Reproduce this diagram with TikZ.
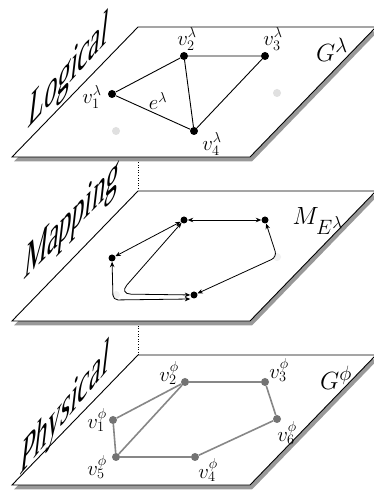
\documentclass[tikz,border=0pt]{standalone}
\usepackage{fontspec}
\newfontfamily\layerfont{Liberation Serif}
\usetikzlibrary{arrows.meta}

\begin{document}
\begin{tikzpicture}[x=1pt, y=1pt,
    plane/.style={draw=black, fill=white, line width=0.9pt},
    shadow/.style={fill=black!40, draw=none},
    lnode/.style={circle, fill=black, inner sep=0pt, minimum size=8pt},
    mnode/.style={circle, fill=black, inner sep=0pt, minimum size=7pt},
    pnode/.style={circle, fill=black!55, inner sep=0pt, minimum size=8pt},
    ghost/.style={circle, fill=black!12, inner sep=0pt, minimum size=8pt},
    faint/.style={circle, fill=black!6, inner sep=0pt, minimum size=8pt},
    ledge/.style={draw, line width=0.9pt},
    pedge/.style={draw=black!47, line width=1.6pt},
    maparrow/.style={draw, line width=0.8pt, {Stealth[length=5.5pt,width=4.5pt]}-{Stealth[length=5.5pt,width=4.5pt]}},
    vlabel/.style={font=\fontsize{20.74}{24}\selectfont, inner sep=0pt},
    glabel/.style={font=\fontsize{24.88}{28}\selectfont, inner sep=0pt},
    layertitle/.style={anchor=base west, inner sep=0pt, font=\layerfont\fontsize{26}{30}\selectfont, cm={1,#1,0.24,2.05,(0,0)}}
  ]
  \useasboundingbox (0,0) rectangle (374,498);

  % Dotted line behind the layers
  \coordinate (top1) at (138,471);
  \coordinate (top3) at (138,143);
  \draw[dotted, line width=0.6pt] (top3) -- (top1);

  % Logical layer
  \begin{scope}[shift={(0,341)}]
    \fill[shadow] (14,-4.5) -- (252,-4.5) -- (378,125.5) -- (140,125.5) -- cycle;
    \draw[plane] (12,0) -- (250,0) -- (376,130) -- (138,130) -- cycle;
    \node[layertitle=1.1] (tlog) at (27,27) {Logical};
    \node[ghost] (lg5) at (116,26) {};
    \node[ghost] (lg6) at (277,64) {};
    \node[lnode] (l1) at (112,63) {};
    \node[lnode] (l2) at (184,101) {};
    \node[lnode] (l3) at (265,101) {};
    \node[lnode] (l4) at (194,26) {};
    \draw[ledge] (l1) -- (l2) -- (l3) -- (l4) -- (l1);
    \draw[ledge] (l2) -- (l4);
    \node[vlabel] (l1lab) at (92,60) {$v_1^\lambda$};
    \node[vlabel] (l2lab) at (187,118) {$v_2^\lambda$};
    \node[vlabel] (l3lab) at (273,118) {$v_3^\lambda$};
    \node[vlabel] (l4lab) at (212,13) {$v_4^\lambda$};
    \node[vlabel] (elab) at (158,56) {$e^\lambda$};
    \node[glabel] (glog) at (332,107) {$G^\lambda$};
  \end{scope}

  % Mapping layer
  \begin{scope}[shift={(0,177)}]
    \fill[shadow] (14,-4.5) -- (252,-4.5) -- (378,125.5) -- (140,125.5) -- cycle;
    \draw[plane] (12,0) -- (250,0) -- (376,130) -- (138,130) -- cycle;
    \node[layertitle=1.0] (tmap) at (23,40) {Mapping};
    \node[faint] (mg5) at (116,26) {};
    \node[faint] (mg6) at (277,64) {};
    \node[mnode] (m1) at (184,101) {};
    \node[mnode] (m2) at (265,101) {};
    \node[mnode] (m3) at (112,63) {};
    \node[mnode] (m4) at (194,26) {};
    \draw[maparrow] (m1) -- (m2);
    \draw[maparrow] (m1) -- (m3);
    \draw[maparrow, rounded corners=6pt] (m4) -- (mg6.center) -- (m2);
    \draw[maparrow, rounded corners=5pt] (m3) -- ([shift={(-3pt,-5pt)}]mg5.center) -- ([yshift=-4pt]m4.west);
    \draw[maparrow, rounded corners=12pt] (m1) -- ([shift={(3pt,1pt)}]mg5.center) -- (m4);
    \node[glabel] (gmap) at (318,100) {$M_{E^\lambda}$};
  \end{scope}

  % Physical layer
  \begin{scope}[shift={(0,13)}]
    \fill[shadow] (14,-4.5) -- (252,-4.5) -- (378,125.5) -- (140,125.5) -- cycle;
    \draw[plane] (12,0) -- (250,0) -- (376,130) -- (138,130) -- cycle;
    \node[layertitle=1.2] (tphy) at (19,8) {Physical};
    \node[pnode] (p1) at (113,65) {};
    \node[pnode] (p2) at (185,103) {};
    \node[pnode] (p3) at (265,103) {};
    \node[pnode] (p4) at (195,28) {};
    \node[pnode] (p5) at (116,28) {};
    \node[pnode] (p6) at (277,66) {};
    \draw[pedge] (p1) -- (p2) -- (p3) -- (p6) -- (p4) -- (p5) -- (p1);
    \draw[pedge] (p5) -- (p2);
    \node[vlabel] (p1lab) at (97,65) {$v_1^\phi$};
    \node[vlabel] (p2lab) at (169,112) {$v_2^\phi$};
    \node[vlabel] (p3lab) at (279,115) {$v_3^\phi$};
    \node[vlabel] (p4lab) at (208,15) {$v_4^\phi$};
    \node[vlabel] (p5lab) at (97,18) {$v_5^\phi$};
    \node[vlabel] (p6lab) at (287,52) {$v_6^\phi$};
    \node[glabel] (gphy) at (336,107) {$G^\phi$};
  \end{scope}
\end{tikzpicture}
\end{document}
